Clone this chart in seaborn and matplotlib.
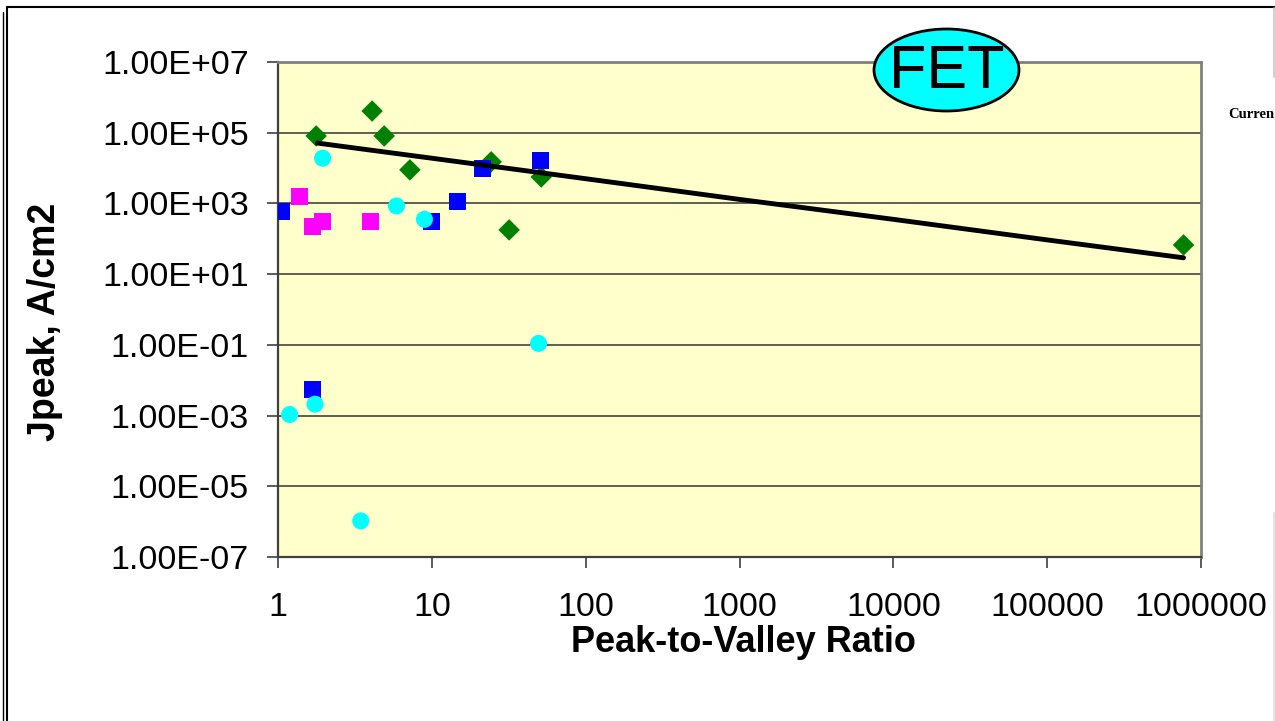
import matplotlib
matplotlib.use("Agg")
import matplotlib.pyplot as plt
import matplotlib.ticker as mticker
from matplotlib.patches import Ellipse
from matplotlib.lines import Line2D
import seaborn as sns
import pandas as pd

# ---------------- data ----------------
GREEN_X = [1.77, 4.09, 4.9, 7.2, 24.3, 31.8, 51.4, 770000]
GREEN_Y = [8.1e4, 4.1e5, 8.1e4, 8.9e3, 1.5e4, 178, 5.6e3, 67]

BLUE_X = [1.06, 21.3, 51.2, 14.6, 10.0, 1.67]
BLUE_Y = [610, 9.9e3, 1.6e4, 1170, 305, 5.6e-3]

MAGENTA_X = [1.38, 1.68, 1.95, 4.0]
MAGENTA_Y = [1600, 220, 315, 315]

CYAN_X = [1.95, 5.89, 8.95, 49.4, 1.74, 1.19, 3.45]
CYAN_Y = [1.9e4, 850, 355, 0.11, 2.1e-3, 1.07e-3, 1.05e-6]

TREND_X = [1.8, 10, 100, 1000, 10000, 100000, 770000]
TREND_Y = [5.1e4, 1.9e4, 5.0e3, 1.3e3, 355, 93, 29]

Y_TICKS = [1e-7, 1e-5, 1e-3, 1e-1, 1e1, 1e3, 1e5, 1e7]
X_TICKS = [1, 10, 100, 1000, 10000, 100000, 1000000]
X_LABEL = "Peak-to-Valley Ratio"
Y_LABEL = "Jpeak, A/cm2"
BADGE = "FET"
SIDE_TEXT = "Curren"

# ---------------- style ----------------
sns.set_style("white")
plt.rcParams["font.family"] = ["Liberation Sans", "DejaVu Sans"]
plt.rcParams["text.color"] = "black"
plt.rcParams["axes.labelcolor"] = "black"
plt.rcParams["xtick.color"] = "black"
plt.rcParams["ytick.color"] = "black"

W, H = 1275, 721
fig = plt.figure(figsize=(W / 100, H / 100), dpi=100, facecolor="white")
L, R, T, B = 278, 1201, 62, 557
ax = fig.add_axes([L / W, 1 - B / H, (R - L) / W, (B - T) / H])
ax.set_facecolor("#FFFFCC")

series = [
    (GREEN_X, GREEN_Y, "#008000", "D", 120),
    (BLUE_X, BLUE_Y, "#0000FF", "s", 150),
    (MAGENTA_X, MAGENTA_Y, "#FF00FF", "s", 150),
    (CYAN_X, CYAN_Y, "#00FFFF", "o", 150),
]
for xs, ys, col, mk, sz in series:
    df = pd.DataFrame({"x": xs, "y": ys})
    sns.scatterplot(data=df, x="x", y="y", ax=ax, color=col, marker=mk,
                    s=sz, edgecolor="none", linewidth=0, zorder=3)

trend = pd.DataFrame({"x": TREND_X, "y": TREND_Y})
sns.lineplot(data=trend, x="x", y="y", ax=ax, color="black", linewidth=3.5,
             zorder=4, sort=True)

ax.set_xscale("log")
ax.set_yscale("log")
ax.set_xlim(1, 1e6)
ax.set_ylim(1e-7, 1e7)

ax.set_yticks(Y_TICKS)
ax.set_xticks(X_TICKS)
ax.yaxis.set_minor_locator(mticker.NullLocator())
ax.xaxis.set_minor_locator(mticker.NullLocator())
ax.set_yticklabels([f"{v:.2E}" for v in Y_TICKS])
ax.set_xticklabels([str(v) for v in X_TICKS])
ax.tick_params(axis="y", which="major", direction="out", length=8, width=1.2,
               color="#404040", labelcolor="black", labelsize=24.5, pad=13,
               left=True)
ax.tick_params(axis="x", which="major", direction="out", length=8, width=1.2,
               color="#404040", labelcolor="black", labelsize=24.5, pad=17,
               bottom=True)

ax.grid(True, axis="y", which="major", color="#333333", linewidth=1.1)
ax.grid(False, axis="x")

for side in ["left", "bottom"]:
    ax.spines[side].set_color("#404040")
    ax.spines[side].set_linewidth(1.6)
for side in ["top", "right"]:
    ax.spines[side].set_color("#808080")
    ax.spines[side].set_linewidth(2)

ax.set_xlabel(X_LABEL, fontsize=26, fontweight="bold", color="black")
ax.set_ylabel(Y_LABEL, fontsize=27, fontweight="bold", color="black")
ax.xaxis.set_label_coords((743 - L) / (R - L), (B - 642) / (B - T))
ax.xaxis.label.set_va("center")
ax.yaxis.set_label_coords((45 - L) / (R - L), (B - 322) / (B - T))
ax.yaxis.label.set_va("center")

# FET badge
ell = Ellipse(((946.5) / W, 1 - 70 / H), 145 / W, 82 / H,
              transform=fig.transFigure, facecolor="#00FFFF",
              edgecolor="black", linewidth=2, zorder=10)
fig.add_artist(ell)
fig.text(946.5 / W, 1 - 72 / H, BADGE, ha="center", va="center",
         fontsize=44, color="black", zorder=11)

# side text
fig.text(1228 / W, 1 - 115 / H, SIDE_TEXT, ha="left", va="center",
         fontsize=10.5, fontweight="bold", family=["Liberation Serif"],
         color="black")

# outer frame remnants
def fline(x0, y0, x1, y1, color="black", lw=1.5):
    fig.add_artist(Line2D([x0 / W, x1 / W], [1 - y0 / H, 1 - y1 / H],
                          transform=fig.transFigure, color=color,
                          linewidth=lw, zorder=1))

fline(7, 7, W, 7)
fline(7, 7, 7, H)
fline(2.5, 12, 2.5, H, lw=1.0)
fline(1274, 8, 1274, 77, color="#C8C8C8", lw=1.2)
fline(1274, 513, 1274, H, color="#E0E0E0", lw=1.2)

fig.savefig("out.png", dpi=100, facecolor="white")
